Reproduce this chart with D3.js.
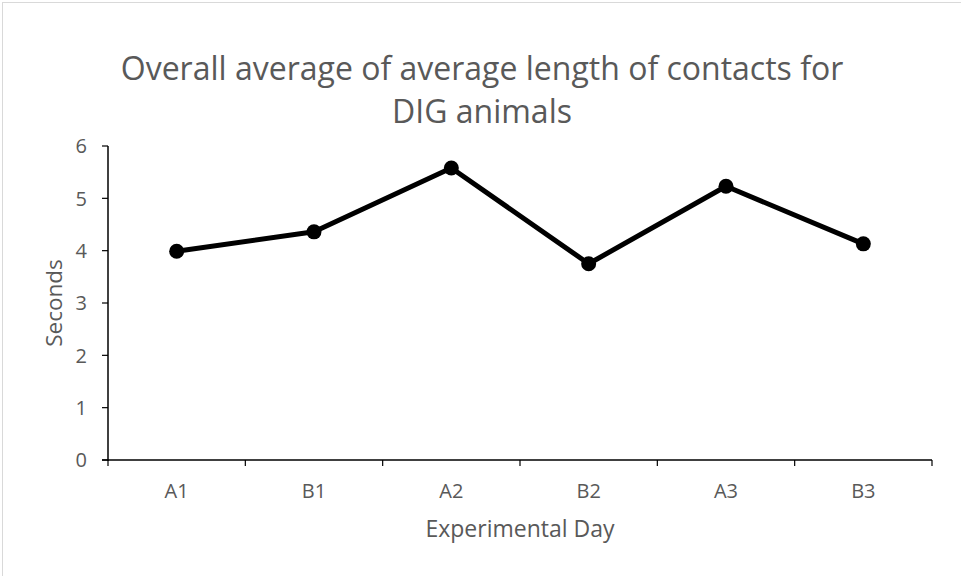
<!DOCTYPE html>
<html>
<head>
<meta charset="utf-8">
<script src="https://cdn.jsdelivr.net/npm/d3@7"></script>
<style>
  body { margin: 0; background: #fff; }
  text { font-family: "Open Sans", sans-serif; fill: #595959; }
</style>
</head>
<body>
<div id="chart"></div>
<script>
// chart data
const days = ["A1", "B1", "A2", "B2", "A3", "B3"];
const seconds = [3.99, 4.36, 5.58, 3.75, 5.23, 4.13];
const yTicks = [0, 1, 2, 3, 4, 5, 6];
const titleLines = ["Overall average of average length of contacts for", "DIG animals"];

const width = 961,
    height = 576,
    margin = ({ top: 146, right: 29, bottom: 116, left: 108 });

const svg = d3.select("#chart")
    .append("svg")
    .attr("width", width)
    .attr("height", height);

// light frame round the chart area
svg.append("rect")
    .attr("x", 2.5).attr("y", 2.5)
    .attr("width", width - 2).attr("height", height)
    .attr("fill", "none")
    .attr("stroke", "#d9d9d9");

let x = d3.scaleBand()
    .domain(days)
    .range([margin.left, width - margin.right]);

let y = d3.scaleLinear()
    .domain([0, 6])
    .range([height - margin.bottom, margin.top]);

// x axis, ticks sit between categories
const xAxis = svg.append("g")
    .attr("transform", `translate(0,${height - margin.bottom})`);
xAxis.append("line")
    .attr("x1", margin.left - 6).attr("x2", width - margin.right)
    .attr("stroke", "#000").attr("stroke-width", 1.5);
xAxis.selectAll(".xt")
    .data(d3.range(days.length + 1))
    .join("line")
    .attr("x1", i => margin.left + i * x.bandwidth())
    .attr("x2", i => margin.left + i * x.bandwidth())
    .attr("y1", 0).attr("y2", 6)
    .attr("stroke", "#000").attr("stroke-width", 1.2);
xAxis.selectAll(".xl")
    .data(days)
    .join("text")
    .attr("x", d => x(d) + x.bandwidth() / 2)
    .attr("y", 38)
    .attr("text-anchor", "middle")
    .attr("font-size", 20)
    .text(d => d);

// y axis
const yAxis = svg.append("g")
    .attr("transform", `translate(${margin.left},0)`);
yAxis.append("line")
    .attr("y1", y(6)).attr("y2", y(0) + 1)
    .attr("stroke", "#000").attr("stroke-width", 1.5);
yAxis.selectAll(".yt")
    .data(yTicks)
    .join("line")
    .attr("x1", -6).attr("x2", 0)
    .attr("y1", d => y(d)).attr("y2", d => y(d))
    .attr("stroke", "#000").attr("stroke-width", 1.2);
yAxis.selectAll(".yl")
    .data(yTicks)
    .join("text")
    .attr("x", -21)
    .attr("y", d => y(d))
    .attr("dy", "0.36em")
    .attr("text-anchor", "end")
    .attr("font-size", 20)
    .text(d => d);

// axis titles
svg.append("text")
    .attr("x", (margin.left + width - margin.right) / 2)
    .attr("y", 537)
    .attr("text-anchor", "middle")
    .attr("font-size", 23)
    .text("Experimental Day");

svg.append("text")
    .attr("transform", `translate(62,303) rotate(-90)`)
    .attr("text-anchor", "middle")
    .attr("font-size", 22.5)
    .text("Seconds");

// title
svg.append("g").selectAll("text")
    .data(titleLines)
    .join("text")
    .attr("x", 482)
    .attr("y", (d, i) => 80 + i * 43)
    .attr("text-anchor", "middle")
    .attr("font-size", 32)
    .text(d => d);

// line and markers
let line = d3.line()
    .x((d, i) => x(days[i]) + x.bandwidth() / 2)
    .y(d => y(d));

svg.append("path")
    .datum(seconds)
    .attr("d", line)
    .attr("fill", "none")
    .attr("stroke", "#000")
    .attr("stroke-width", 5)
    .attr("stroke-linejoin", "round");

svg.selectAll(".dot")
    .data(seconds)
    .join("circle")
    .attr("cx", (d, i) => x(days[i]) + x.bandwidth() / 2)
    .attr("cy", d => y(d))
    .attr("r", 7.5)
    .attr("fill", "#000");
</script>
</body>
</html>
